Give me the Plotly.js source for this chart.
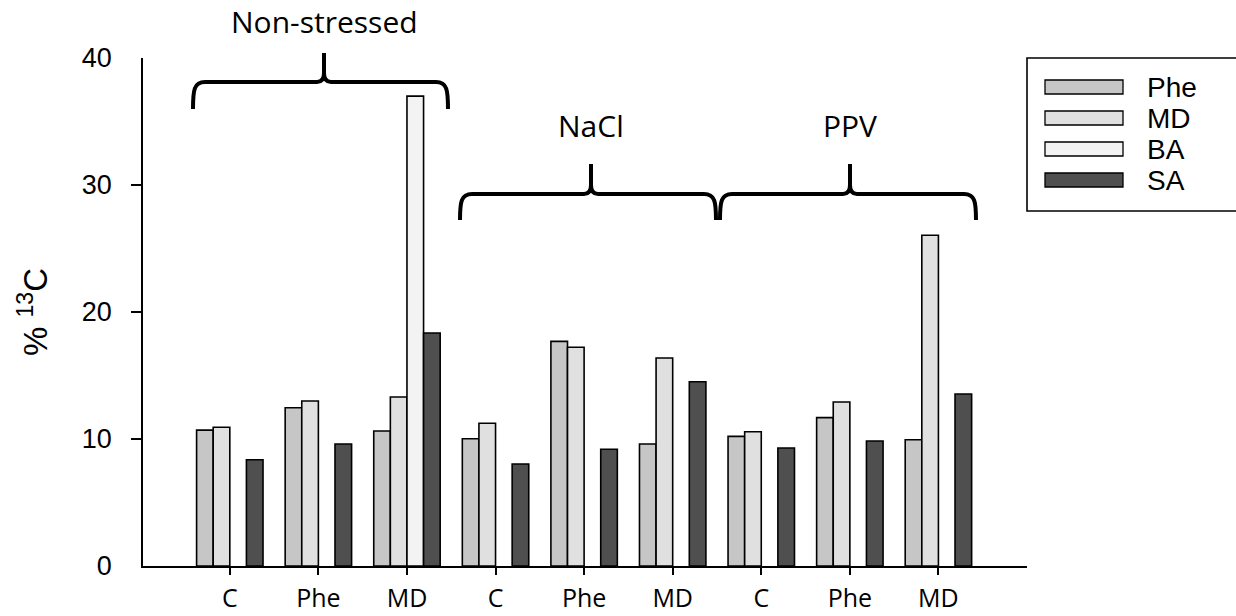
<!DOCTYPE html>
<html>
<head>
<meta charset="utf-8">
<script src="https://cdn.plot.ly/plotly-3.0.1.min.js"></script>
<style>html,body{margin:0;padding:0;background:#fff;}#chart{width:1236px;height:616px;}</style>
</head>
<body>
<div id="chart"></div>
<script>
// ---- data ----
const categories = ['C', 'Phe', 'MD', 'C', 'Phe', 'MD', 'C', 'Phe', 'MD'];
const groupNames = ['Non-stressed', 'NaCl', 'PPV'];
const seriesNames = ['Phe', 'MD', 'BA', 'SA'];
const phe = [10.70, 12.46, 10.63, 10.02, 17.69, 9.61, 10.21, 11.68, 9.94];
const md  = [10.92, 12.99, 13.31, 11.24, 17.22, 16.38, 10.57, 12.91, 26.04];
const ba  = [null, null, 37.0, null, null, null, null, null, null];
const sa  = [8.37, 9.61, 18.35, 8.03, 9.19, 14.51, 9.29, 9.84, 13.54];
const yTicks = [0, 10, 20, 30, 40];

// ---- styling ----
const colors = ['#c6c6c6', '#e0e0e0', '#f3f3f3', '#4f4f4f'];
const seriesValues = [phe, md, ba, sa];
const xIdx = categories.map((_, i) => i);

const W = 1236, H = 616;
const M = {l: 143, r: 209, t: 58, b: 50};
const PW = W - M.l - M.r, PH = H - M.t - M.b;
const px = x => (x - M.l) / PW;
const py = y => (H - M.b - y) / PH;

const traces = seriesValues.map((vals, k) => ({
  type: 'bar',
  name: seriesNames[k],
  x: xIdx,
  y: vals,
  marker: {color: colors[k], line: {color: '#000', width: 1.6}},
  showlegend: false,
  hoverinfo: 'y+name'
}));

// braces (decorative, in pixel layout converted to paper)
function brace(L, R, Mx, yb, yh, yp) {
  const p = (x, y) => px(x).toFixed(5) + ',' + py(y).toFixed(5);
  return 'M' + p(L, yb) +
    ' C' + p(L, yh + 8) + ' ' + p(L + 1, yh) + ' ' + p(L + 12, yh) +
    ' L' + p(Mx - 7, yh) +
    ' Q' + p(Mx, yh) + ' ' + p(Mx, yh - 9) +
    ' L' + p(Mx, yp) +
    ' L' + p(Mx, yh - 9) +
    ' Q' + p(Mx, yh) + ' ' + p(Mx + 7, yh) +
    ' L' + p(R - 12, yh) +
    ' C' + p(R - 1, yh) + ' ' + p(R, yh + 8) + ' ' + p(R, yb);
}
const braceDefs = [
  {L: 193, R: 448, Mx: 324, yb: 109, yh: 82, yp: 53, ty: 22},
  {L: 460, R: 716, Mx: 591, yb: 220, yh: 194, yp: 164, ty: 126},
  {L: 720, R: 976, Mx: 850, yb: 220, yh: 194, yp: 164, ty: 126}
];

const shapes = braceDefs.map(b => ({
  type: 'path', xref: 'paper', yref: 'paper',
  path: brace(b.L, b.R, b.Mx, b.yb, b.yh, b.yp),
  line: {color: '#000', width: 4}
}));

// legend box
shapes.push({type: 'rect', xref: 'paper', yref: 'paper',
  x0: px(1027), x1: px(1245), y0: py(211), y1: py(58),
  line: {color: '#000', width: 1.6}, fillcolor: 'rgba(0,0,0,0)'});

const annotations = braceDefs.map((b, i) => ({
  xref: 'paper', yref: 'paper', x: px(b.Mx), y: py(b.ty),
  text: groupNames[i], showarrow: false, xanchor: 'center', yanchor: 'middle',
  font: {family: 'Open Sans', size: 30, color: '#000'}
}));

seriesNames.forEach((name, k) => {
  const cy = 87 + 31 * k;
  shapes.push({type: 'rect', xref: 'paper', yref: 'paper',
    x0: px(1045), x1: px(1123), y0: py(cy + 7), y1: py(cy - 7),
    fillcolor: colors[k], line: {color: '#000', width: 1.3}});
  annotations.push({xref: 'paper', yref: 'paper', x: px(1145), y: py(cy),
    text: name, showarrow: false, xanchor: 'left', yanchor: 'middle',
    font: {family: 'Liberation Sans', size: 28, color: '#000'}});
});

const layout = {
  width: W, height: H,
  margin: M,
  paper_bgcolor: '#fff', plot_bgcolor: '#fff',
  barmode: 'group', bargap: 0.25, bargroupgap: 0,
  showlegend: false,
  xaxis: {
    range: [-0.98, 9.0], tickmode: 'array', tickvals: xIdx, ticktext: categories,
    ticks: 'outside', ticklen: 7, tickwidth: 1.6, tickcolor: '#000',
    showline: true, linecolor: '#000', linewidth: 1.6,
    showgrid: false, zeroline: false, fixedrange: true,
    tickfont: {family: 'Open Sans', size: 25, color: '#000'},
    ticklabelstandoff: 2
  },
  yaxis: {
    range: [0, 40], tickmode: 'array', tickvals: yTicks, ticks: '',
    ticklabelstandoff: 24,
    minor: {tickmode: 'array', tickvals: [10, 20, 30], ticks: 'outside', ticklen: 10, tickwidth: 1.6, tickcolor: '#000'},
    showline: true, linecolor: '#000', linewidth: 1.6,
    showgrid: false, zeroline: false, fixedrange: true,
    tickfont: {family: 'Liberation Sans', size: 27, color: '#000'},
    title: {text: '% <sup>13</sup>C', font: {family: 'Liberation Sans', size: 33, color: '#000'}, standoff: 24},
    automargin: false
  },
  shapes: shapes,
  annotations: annotations
};

Plotly.newPlot('chart', traces, layout, {displayModeBar: false});
</script>
</body>
</html>
